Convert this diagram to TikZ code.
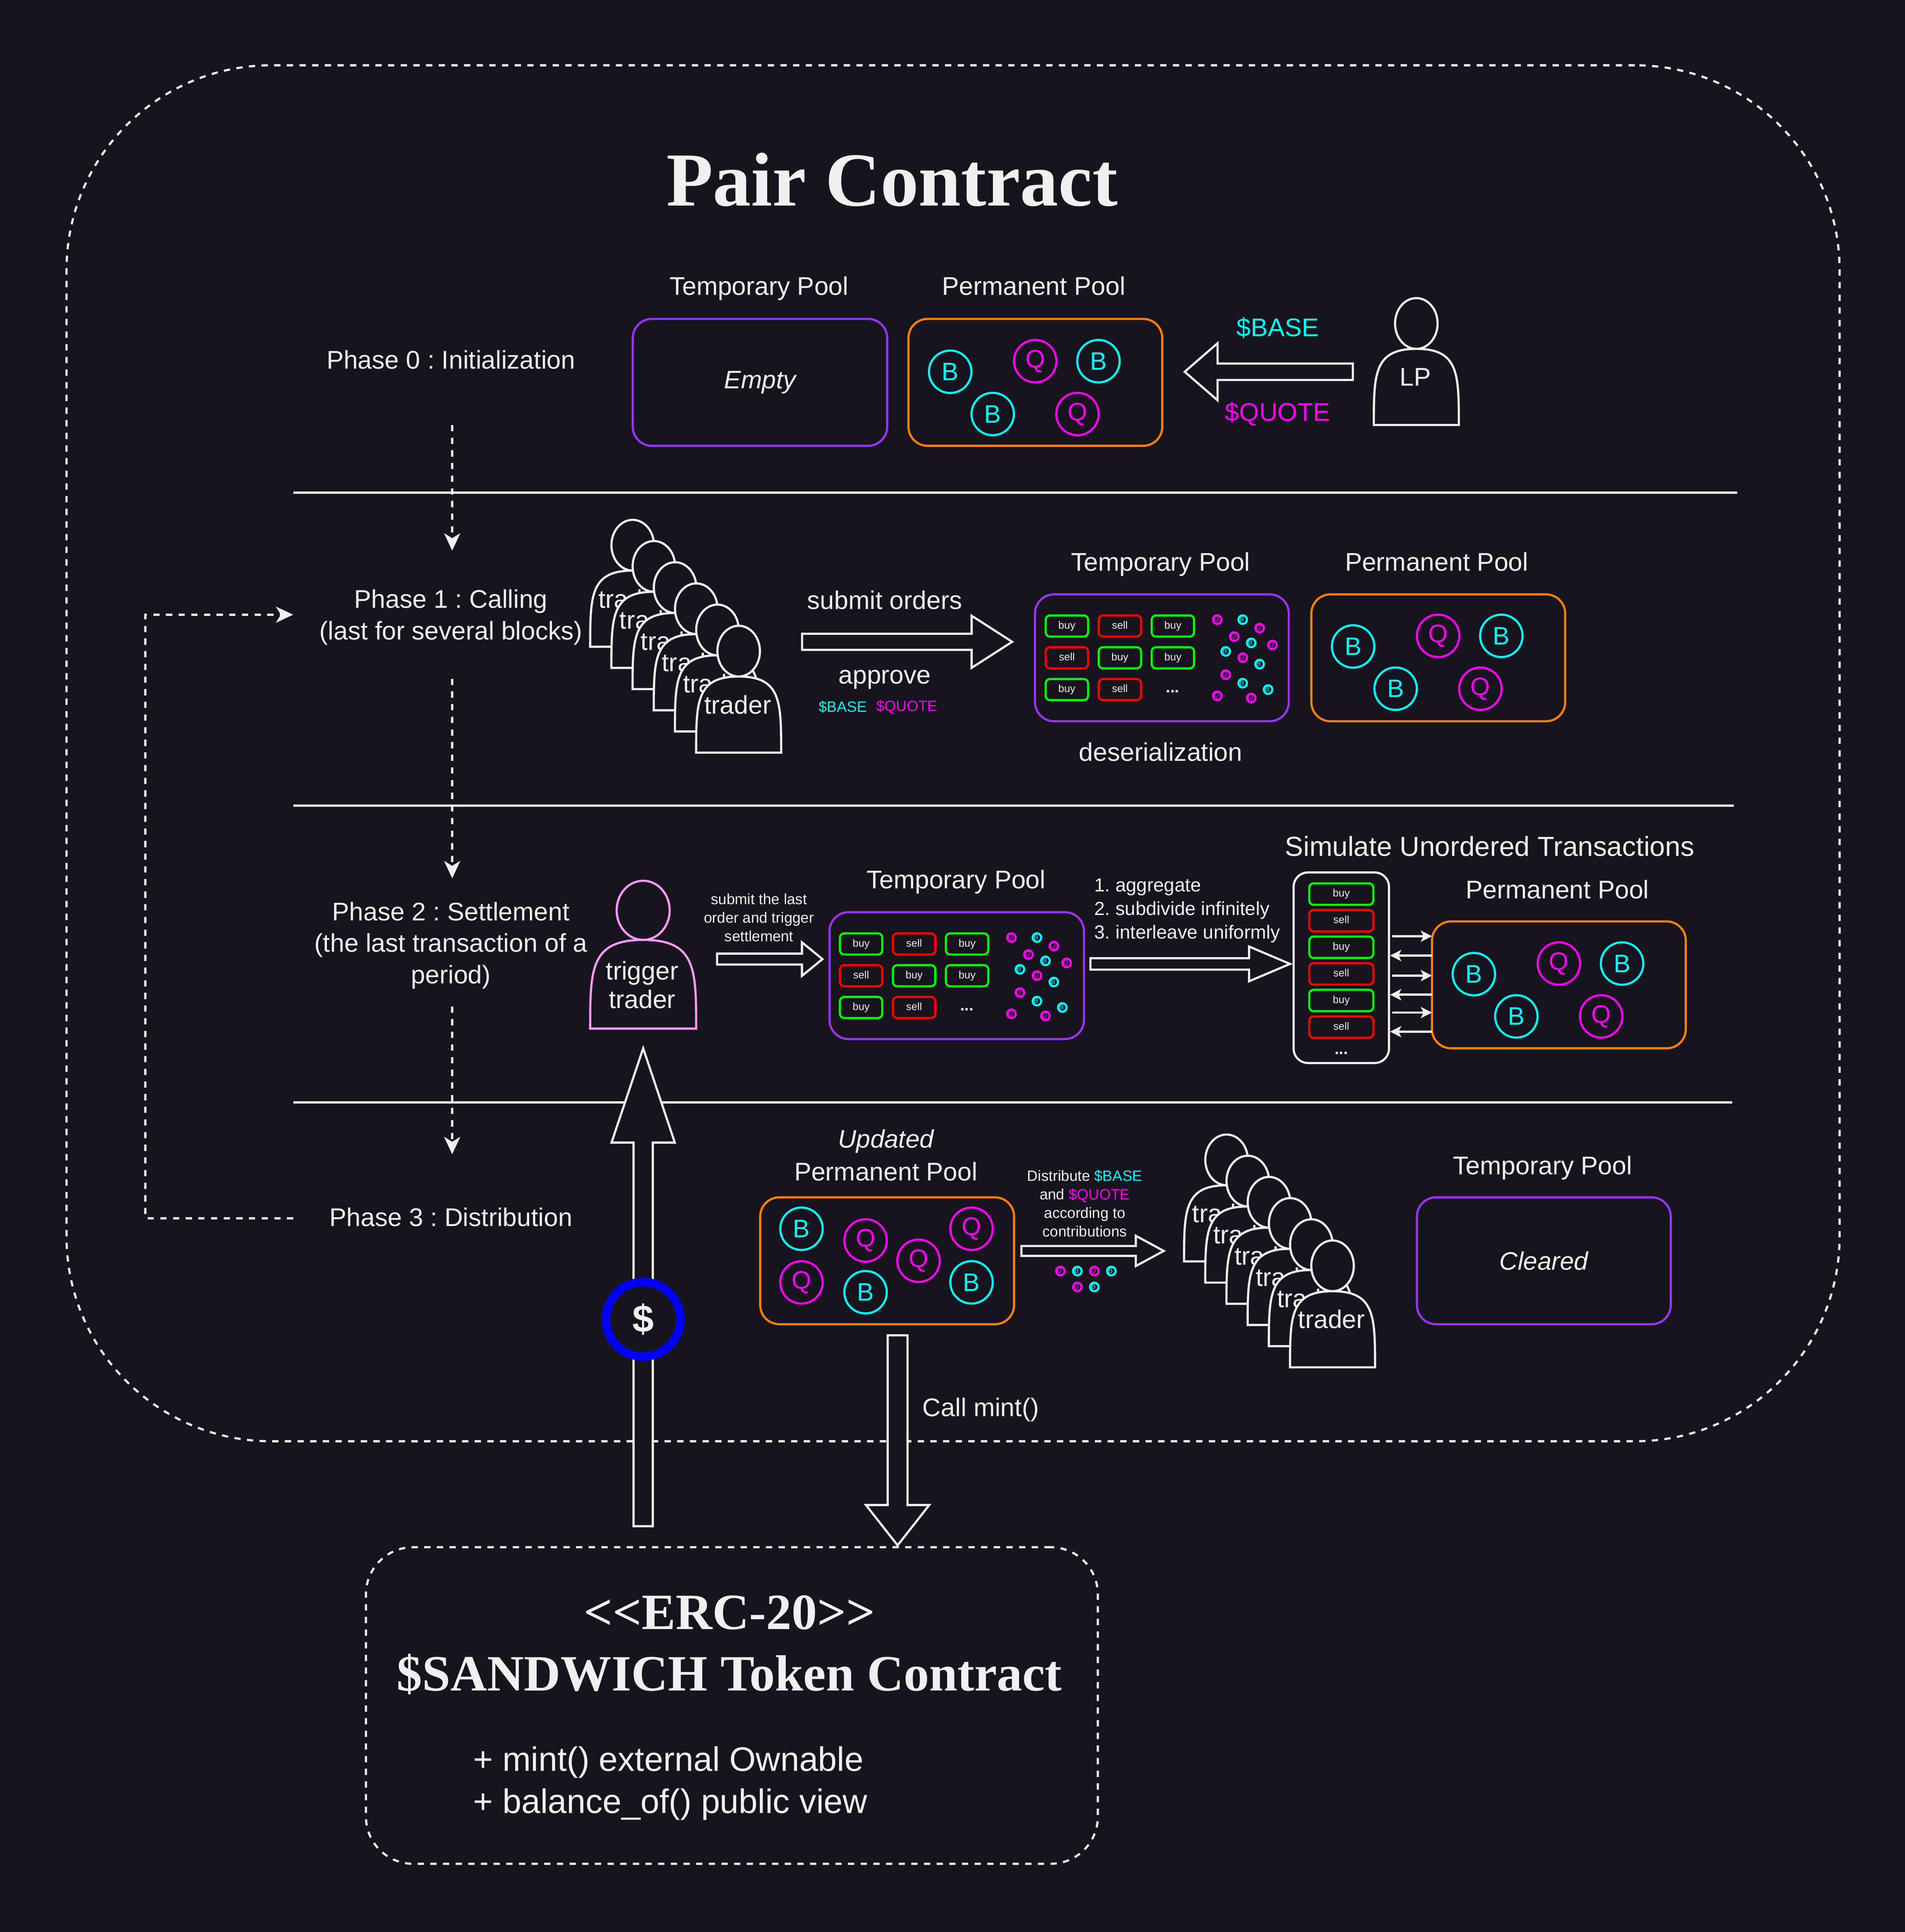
\documentclass[tikz,border=0pt]{standalone}
\usepackage{fontspec}
\setmainfont{Liberation Sans}
\newfontfamily\serifbold{Liberation Serif}
\usetikzlibrary{arrows.meta,calc}
\definecolor{bg}{HTML}{18141D}
\definecolor{fg}{HTML}{F0F0F0}
\definecolor{poolT}{HTML}{9933FF}
\definecolor{poolP}{HTML}{FF8000}
\definecolor{tB}{HTML}{00FFFF}
\definecolor{tQ}{HTML}{FF00FF}
\definecolor{cbuy}{HTML}{00FF00}
\definecolor{csell}{HTML}{FF0000}
\definecolor{ring}{HTML}{0000FF}
\definecolor{pink}{HTML}{FF99FF}
\def\un{0.03489cm}
\tikzset{
  boxdim/.style 2 args={minimum width=#1*\un, minimum height=#2*\un},
  txt/.style={text=fg,font=\fontsize{20.6}{25.4}\selectfont,align=center,inner sep=0pt},
  small/.style={text=fg,font=\fontsize{12}{14.9}\selectfont,align=center,inner sep=0pt},
  serifhead/.style={text=fg,inner sep=0pt,align=center,font=\serifbold\bfseries\fontsize{41}{50}\selectfont},
  poolbox/.style={draw=#1,line width=1.75pt,rounded corners=15.4pt,inner sep=0pt,outer sep=0pt,fill=bg,text=fg,font=\fontsize{20.4}{25}\selectfont\itshape},
  bigtokB/.style={circle,draw=tB,text=tB,line width=1.75pt,minimum size=34.2pt,inner sep=0pt,font=\fontsize{20.4}{24}\selectfont},
  bigtokQ/.style={circle,draw=tQ,text=tQ,line width=1.75pt,minimum size=34.2pt,inner sep=0pt,font=\fontsize{20.4}{24}\selectfont},
  tokB/.style={circle,draw=tB,text=tB,line width=1.75pt,minimum size=6.9pt,inner sep=0pt,font=\fontsize{5.3}{6}\selectfont},
  tokQ/.style={circle,draw=tQ,text=tQ,line width=1.75pt,minimum size=6.9pt,inner sep=0pt,font=\fontsize{5.3}{6}\selectfont},
  chip/.style={rectangle,rounded corners=3.5pt,line width=1.75pt,fill=bg,text=fg,inner sep=0pt,
     font=\fontsize{8.5}{10}\selectfont,text height=6.2pt,text depth=1.8pt},
  buychip/.style={chip,draw=cbuy},
  sellchip/.style={chip,draw=csell},
  dots/.style={text=fg,inner sep=0pt,anchor=base,font=\bfseries\fontsize{13}{14}\selectfont},
  divider/.style={draw=fg,line width=1.75pt},
  flow/.style={draw=fg,line width=1.75pt,dash pattern=on 5.1pt off 5.1pt,-{Stealth[length=14pt,width=13pt,inset=4pt]}},
  frame/.style={draw=fg,line width=1.75pt,dash pattern=on 5.1pt off 5.1pt,inner sep=0pt},
  blockline/.style={draw=fg,fill=bg,line width=1.75pt,miter limit=10},
  tick/.style={draw=fg,line width=1.75pt,-{Stealth[length=9pt,width=9pt,inset=2.2pt]}},
}
\newcommand\cletter[1]{\raisebox{0.5pt}{\kern-1.4pt #1}}
% name, x, top, w, h, colour, label y (relative), label
\newcommand\actor[8]{%
  \begin{scope}[shift={(#2,#3)}]
    \draw[draw=#6,fill=bg,line width=1.75pt] ({#4/2},{#5/5}) ellipse [x radius={#4/4},y radius={#5/5}];
    \draw[draw=#6,fill=bg,line width=1.75pt] (0,#5) .. controls (0,{3*#5/5}) and (0,{2*#5/5}) .. ({#4/2},{2*#5/5})
       .. controls (#4,{2*#5/5}) and (#4,{3*#5/5}) .. (#4,#5) -- cycle;
    \node[txt] (#1) at ({#4/2-0.8},#7) {#8};
  \end{scope}}
% start, tip, half shaft, half head, head length
\newcommand\blockarrow[5]{%
  \coordinate (ba) at ($(#2)!#5pt!(#1)$);
  \draw[blockline] ($(#1)!#3pt!90:(#2)$) -- ($(ba)!#3pt!90:(#2)$) -- ($(ba)!#4pt!90:(#2)$) -- (#2)
     -- ($(ba)!#4pt!-90:(#2)$) -- ($(ba)!#3pt!-90:(#2)$) -- ($(#1)!#3pt!-90:(#2)$) -- cycle;}
% name, left, top
\newcommand\permcoins[3]{%
  \node[bigtokB] (#1a) at ({#2+34.2},{#3+42.8}) {B};
  \node[bigtokQ] (#1b) at ({#2+103.2},{#3+34.2}) {Q};
  \node[bigtokB] (#1c) at ({#2+154.5},{#3+34.2}) {B};
  \node[bigtokB] (#1d) at ({#2+68.7},{#3+77.1}) {B};
  \node[bigtokQ] (#1e) at ({#2+137.5},{#3+77.1}) {Q};}
% name, left, top
\newcommand\ordergrid[3]{%
  \begin{scope}[shift={(#2,#3)}]
    \foreach \ci/\cj/\ct in {0/0/buy,1/0/sell,2/0/buy,0/1/sell,1/1/buy,2/1/buy,0/2/buy,1/2/sell}{
      \node[\ct chip,boxdim={34.4}{17.2}] (#1o\ci\cj) at ({25.9+43*\ci},{25.8+25.8*\cj}) {\ct};}
    \node[dots] (#1dots) at (111.7,79.9) {...};
    \foreach \cx/\cy/\cl/\ci in {147.9/20.6/Q/a,168.6/20.6/B/b,182.3/27.5/Q/c,161.7/34.4/Q/d,175.5/39.5/B/e,192.7/41.2/Q/f,154.8/46.4/B/g,168.6/51.5/Q/h,182.3/56.7/B/i,154.8/65.3/Q/j,168.6/72.2/B/k,189.2/77.4/B/l,147.9/82.5/Q/m,175.5/84.2/Q/n}{
      \node[tok\cl] (#1t\ci) at (\cx,\cy) {\cletter{\cl}};}
  \end{scope}}
\begin{document}
\frenchspacing
\begin{tikzpicture}[x=0.03489cm,y=-0.03489cm]
\fill[bg] (0,0) rectangle (1546,1568.4);
\useasboundingbox (0,0) rectangle (1546,1568.4);

% frames
\node[frame,rounded corners=165pt,boxdim={1439}{1117}] (pair) at (773.5,611.5) {};
\node[frame,rounded corners=38pt,boxdim={594}{257}] (erc) at (594,1384.5) {};

% dividers
\coordinate (l1a) at (238,400); \coordinate (l1b) at (1410,400);
\coordinate (l2a) at (238,654); \coordinate (l2b) at (1407,654);
\coordinate (l3a) at (238,895); \coordinate (l3b) at (1406,895);
\draw[divider] (l1a) -- (l1b);
\draw[divider] (l2a) -- (l2b);
\draw[divider] (l3a) -- (l3b);

% title
\node[text=fg,inner sep=0pt,font=\serifbold\bfseries\fontsize{61.5}{70}\selectfont] (title) at (724,146) {Pair Contract};

% phase labels
\node[txt] (ph0) at (366,292) {Phase 0 : Initialization};
\node[txt] (ph1) at (366,501) {Phase 1 : Calling\\(last for several blocks)};
\node[txt] (ph2) at (366,767.5) {Phase 2 : Settlement\\(the last transaction of a\\period)};
\node[txt] (ph3) at (366,988) {Phase 3 : Distribution};

% phase flow
\coordinate (f0a) at (367,345); \coordinate (f0b) at (367,447);
\coordinate (f1a) at (367,551); \coordinate (f1b) at (367,713);
\coordinate (f2a) at (367,817); \coordinate (f2b) at (367,937);
\coordinate (f3a) at (238,989); \coordinate (f3m) at (118,989); \coordinate (f3n) at (118,499); \coordinate (f3b) at (238,499);
\draw[flow] (f0a) -- (f0b);
\draw[flow] (f1a) -- (f1b);
\draw[flow] (f2a) -- (f2b);
\draw[flow] (f3a) -- (f3m) -- (f3n) -- (f3b);

% phase 0
\node[txt] (t0) at (616,234) {Temporary Pool};
\node[txt] (p0) at (839,232) {Permanent Pool};
\node[poolbox=poolT,boxdim={206.5}{103}] (t0box) at (616.8,310.4) {Empty};
\node[poolbox=poolP,boxdim={206}{103}] (p0box) at (840.3,310.4) {};
\permcoins{p0c}{737}{259}
\actor{lp}{1115}{242}{69}{103}{fg}{64}{LP}
\coordinate (lpa) at (1098,301.8); \coordinate (lpb) at (961.5,301.8);
\blockarrow{lpa}{lpb}{6.6}{23}{26.5}
\node[txt,text=tB] (lpbase) at (1037,266) {\$BASE};
\node[txt,text=tQ] (lpquote) at (1037,336) {\$QUOTE};

% phase 1
\foreach \i in {0,...,5}{
  \actor{trA\i}{479+17.2*\i}{422+17.2*\i}{69}{103}{fg}{64}{trader}}
\node[txt] (sub) at (718,487) {submit orders};
\coordinate (sa) at (651,521); \coordinate (sb) at (821.5,521);
\blockarrow{sa}{sb}{6.5}{21}{32.7}
\node[txt] (appr) at (718,551.5) {approve};
\node[small,text=tB] (apb) at (684,574) {\$BASE};
\node[small,text=tQ] (apq) at (736,574) {\$QUOTE};
\node[txt] (t1) at (942,458) {Temporary Pool};
\node[txt] (p1) at (1166,456) {Permanent Pool};
\node[poolbox=poolT,boxdim={206}{103}] (t1box) at (943,534) {};
\ordergrid{g1}{840}{482.4}
\node[txt] (deser) at (942,610.5) {deserialization};
\node[poolbox=poolP,boxdim={206}{103}] (p1box) at (1167.3,534) {};
\permcoins{p1c}{1064}{482}

% phase 2
\actor{trig}{479}{715}{86}{120}{pink}{84.5}{trigger\\[-2.4pt]trader}
\node[small] (trigtxt) at (616,745) {submit the last\\order and trigger\\settlement};
\coordinate (ta) at (582,778.6); \coordinate (tb) at (667.5,778.6);
\blockarrow{ta}{tb}{4.4}{13.5}{16.5}
\node[txt] (t2) at (776,716) {Temporary Pool};
\node[poolbox=poolT,boxdim={206.5}{103}] (t2box) at (776.5,792) {};
\ordergrid{g2}{673}{740.5}
\node[text=fg,inner sep=0pt,anchor=base west,align=left,font=\fontsize{15.3}{19}\selectfont] (steps) at (888,762) {1. aggregate\\2. subdivide infinitely\\3. interleave uniformly};
\coordinate (aa) at (885,782.5); \coordinate (ab) at (1047,782.5);
\blockarrow{aa}{ab}{4.6}{14}{33}
\node[txt,font=\fontsize{22.2}{26}\selectfont] (sim) at (1209,687) {Simulate Unordered Transactions};
\node[txt] (p2) at (1264,722) {Permanent Pool};
\node[draw=fg,fill=bg,line width=1.75pt,rounded corners=11.6pt,inner sep=0pt,boxdim={77.4}{154.7}] (simbox) at (1088.6,785.6) {};
\foreach \ci/\cy/\ct in {a/725.8/buy,b/747.4/sell,c/769/buy,d/790.6/sell,e/812.2/buy,f/833.8/sell}{
  \node[\ct chip,boxdim={52}{17.4}] (sim\ci) at (1088.6,\cy) {\ct};}
\node[dots] (simdots) at (1088.6,856) {...};
\node[poolbox=poolP,boxdim={206}{103}] (p2box) at (1265.2,799.5) {};
\permcoins{p2c}{1162}{748}
\draw[tick,shorten <=1.8pt] (simbox.east |- 0,760) -- (p2box.west |- 0,760);
\draw[tick] (p2box.west |- 0,775.7) -- (simbox.east |- 0,775.7);
\draw[tick,shorten <=1.8pt] (simbox.east |- 0,792) -- (p2box.west |- 0,792);
\draw[tick] (p2box.west |- 0,807.5) -- (simbox.east |- 0,807.5);
\draw[tick,shorten <=1.8pt] (simbox.east |- 0,822) -- (p2box.west |- 0,822);
\draw[tick] (p2box.west |- 0,837.5) -- (simbox.east |- 0,837.5);

% phase 3
\node[txt,font=\fontsize{20.4}{25}\selectfont\itshape] (upd) at (719,926.5) {Updated};
\node[txt] (p3) at (719,951) {Permanent Pool};
\node[poolbox=poolP,boxdim={206}{103}] (p3box) at (720,1023.5) {};
\node[bigtokB] (c3a) at (650.5,997.5) {B};
\node[bigtokQ] (c3b) at (702.5,1007) {Q};
\node[bigtokQ] (c3c) at (788.5,997.5) {Q};
\node[bigtokQ] (c3d) at (745.5,1023.5) {Q};
\node[bigtokQ] (c3e) at (650.5,1041) {Q};
\node[bigtokB] (c3f) at (702.5,1049) {B};
\node[bigtokB] (c3g) at (788.5,1041) {B};
\node[small] (distr) at (880.4,977) {Distribute \textcolor{tB}{\$BASE}\\and \textcolor{tQ}{\$QUOTE}\\according to\\contributions};
\coordinate (da) at (829,1015.5); \coordinate (db) at (944.5,1015.5);
\blockarrow{da}{db}{4}{12.2}{22.5}
\foreach \cx/\cy/\cl/\ci in {860.6/1031.8/Q/a,874.4/1031.8/B/b,888.2/1031.8/Q/c,902/1031.8/B/d,874.4/1044.7/Q/e,888.2/1044.7/B/f}{
  \node[tok\cl] (dt\ci) at (\cx,\cy) {\cletter{\cl}};}
\foreach \i in {0,...,5}{
  \actor{trB\i}{961+17.2*\i}{921+17.2*\i}{69}{103}{fg}{64}{trader}}
\node[txt] (t3) at (1252,948) {Temporary Pool};
\node[poolbox=poolT,boxdim={206}{103}] (t3box) at (1253,1023.5) {Cleared};

% vertical block arrows
\coordinate (ua) at (522,1239); \coordinate (ub) at (522,851);
\blockarrow{ua}{ub}{7.75}{25.5}{76}
\node[circle,draw=ring,line width=6.9pt,fill=bg,inner sep=0pt,minimum size=60pt,text=fg,font=\bfseries\fontsize{31}{34}\selectfont] (coin) at (522,1071) {\$};
\coordinate (ma) at (728.5,1084); \coordinate (mb) at (728.5,1254.5);
\blockarrow{ma}{mb}{8}{25.5}{32.5}
\node[txt] (mint) at (796,1144.5) {Call mint()};

% token contract
\node[serifhead] (erc1) at (592,1309) {<{}<ERC-20>{}>};
\node[serifhead] (erc2) at (592,1359) {\$SANDWICH Token Contract};
\node[text=fg,inner sep=0pt,anchor=base west,align=left,font=\fontsize{27.4}{34}\selectfont] (api) at (384,1472) {+ mint() external Ownable\\+ balance\_of() public view};
\end{tikzpicture}
\end{document}
